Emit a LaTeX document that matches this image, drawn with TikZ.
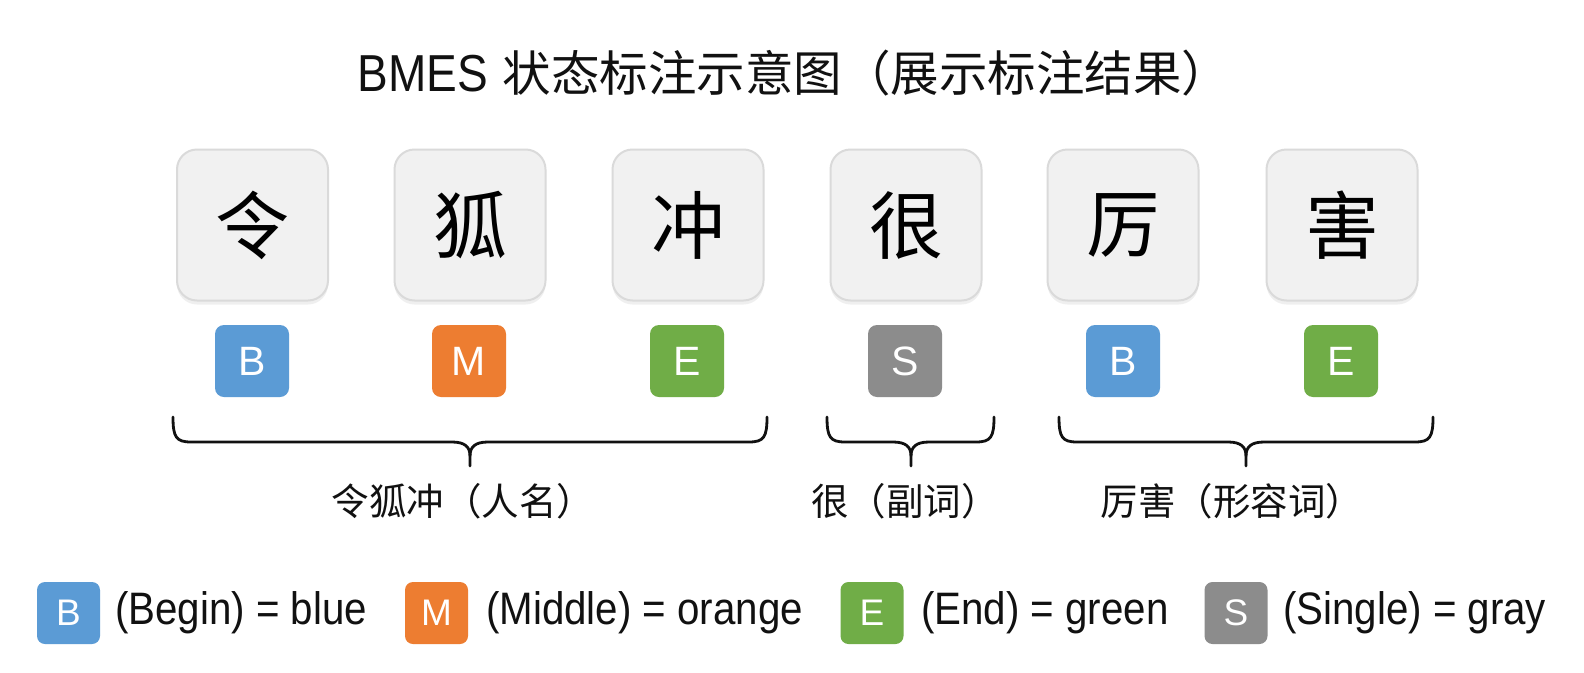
\documentclass[tikz,border=0pt]{standalone}
\usepackage{fontspec}
\setmainfont{Liberation Sans}
\newfontfamily\cjk{Noto Sans CJK SC}
\newfontfamily\narrowsans[FakeStretch=0.885]{Liberation Sans}
\usetikzlibrary{shadows}
\definecolor{tagblue}{HTML}{5B9BD5}
\definecolor{tagorange}{HTML}{ED7D31}
\definecolor{taggreen}{HTML}{70AD47}
\definecolor{taggray}{HTML}{8C8C8C}
\definecolor{boxfill}{HTML}{F1F1F1}
\definecolor{boxline}{HTML}{DADADA}
\definecolor{ink}{HTML}{111111}
\tikzset{
  charbox/.style={rounded corners=20pt, minimum width=151pt, minimum height=151pt,
    fill=boxfill, draw=boxline, line width=2pt, inner sep=0pt,
    font={\cjk\fontsize{74}{74}\selectfont}, text=black,
    drop shadow={shadow xshift=0pt, shadow yshift=-4pt, opacity=0.12}},
  tag/.style={rounded corners=9pt, minimum width=74pt, minimum height=72pt, inner sep=0pt,
    text=white, font={\fontsize{41}{41}\selectfont}},
  legsq/.style={rounded corners=8pt, minimum width=63pt, minimum height=62pt, inner sep=0pt,
    text=white, font={\fontsize{37}{37}\selectfont}},
  legtext/.style={anchor=west, inner sep=0pt, text=ink, font={\narrowsans\fontsize{45.5}{45.5}\selectfont}},
  bracelabel/.style={inner sep=0pt, text=ink, font={\cjk\fontsize{37.5}{37.5}\selectfont}},
  bracepath/.style={line width=2.8pt, draw=ink, line cap=round, line join=round}
}
\newcommand{\bracedraw}[3]{%
  \draw[bracepath] (#1,417) .. controls (#1,437) and (#1+3,442) .. (#1+18,442)
    -- (#3-18,442) .. controls (#3-5,442) and (#3,447) .. (#3,456) -- (#3,466);
  \draw[bracepath] (#2,417) .. controls (#2,437) and (#2-3,442) .. (#2-18,442)
    -- (#3+18,442) .. controls (#3+5,442) and (#3,447) .. (#3,456);
}
\begin{document}
\begin{tikzpicture}[x=1pt,y=-1pt]
\fill[white] (0,0) rectangle (1584,672);
\useasboundingbox (0,0) rectangle (1584,672);

% title
\node[inner sep=0pt, text=ink] (title) at (794,73)
  {\narrowsans\fontsize{52}{52}\selectfont BMES\hspace{15pt}{\cjk\fontsize{48.5}{48.5}\selectfont 状态标注示意图（展示标注结果）}};

% character boxes
\node[charbox] (c1) at (252.5,225) {令};
\node[charbox] (c2) at (470,225) {狐};
\node[charbox] (c3) at (688,225) {冲};
\node[charbox] (c4) at (906,225) {很};
\node[charbox] (c5) at (1123,225) {厉};
\node[charbox] (c6) at (1342,225) {害};

% tags
\node[tag, fill=tagblue] (t1) at (252,361) {B};
\node[tag, fill=tagorange] (t2) at (469,361) {M};
\node[tag, fill=taggreen] (t3) at (687,361) {E};
\node[tag, fill=taggray] (t4) at (905,361) {S};
\node[tag, fill=tagblue] (t5) at (1123,361) {B};
\node[tag, fill=taggreen] (t6) at (1341,361) {E};

% braces
\bracedraw{173}{767}{470}
\bracedraw{827}{994}{911}
\bracedraw{1059}{1433}{1246}

% brace labels
\node[bracelabel] (l1) at (463,501) {令狐冲（人名）};
\node[bracelabel] (l2) at (905,501) {很（副词）};
\node[bracelabel] (l3) at (1232,501) {厉害（形容词）};

% legend
\node[legsq, fill=tagblue] (k1) at (68.5,613) {B};
\node[legtext] (k1t) at (115,613) {(Begin) = blue};
\node[legsq, fill=tagorange] (k2) at (436.5,613) {M};
\node[legtext] (k2t) at (486,613) {(Middle) = orange};
\node[legsq, fill=taggreen] (k3) at (872,613) {E};
\node[legtext] (k3t) at (921,613) {(End) = green};
\node[legsq, fill=taggray] (k4) at (1236,613) {S};
\node[legtext] (k4t) at (1283,613) {(Single) = gray};
\end{tikzpicture}
\end{document}
